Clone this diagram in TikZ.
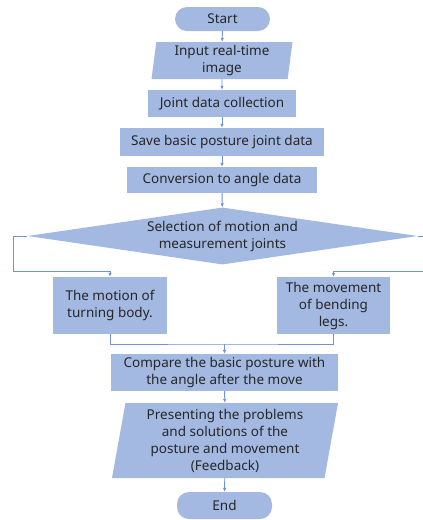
\documentclass[tikz,border=0pt]{standalone}
\usepackage{fontspec}
\setmainfont{Noto Sans}
\usetikzlibrary{shapes.geometric,arrows.meta}

\definecolor{boxfill}{RGB}{163,185,225}
\definecolor{linkcol}{RGB}{112,146,212}

\tikzset{
  txt/.style={align=center, font=\fontsize{13.5}{17}\selectfont, text=black!85},
  base/.style={txt, fill=boxfill, draw=none, inner sep=0pt},
  term/.style={base, rounded corners=12pt, minimum width=95pt, minimum height=24pt},
  proc/.style={base, rectangle, minimum height=27pt},
  io/.style={base, trapezium, trapezium stretches body=true},
  decide/.style={base, diamond, aspect=6.84, minimum width=390pt, minimum height=57pt},
  link/.style={draw=linkcol, line width=0.9pt},
  arr/.style={link, -{Latex[length=4pt,width=3.5pt]}}
}

\begin{document}
\begin{tikzpicture}[x=1pt,y=-1pt]
\clip (0,0) rectangle (423,520);
\fill[white] (0,0) rectangle (423,520);

\node[term] (start) at (222.5,19) {Start};
\node[io, trapezium left angle=81, trapezium right angle=99,
  minimum width=141pt, minimum height=37pt] (input) at (222,60.5) {Input real-time\\image};
\node[proc, minimum width=148pt] (joint) at (222,103.5) {Joint data collection};
\node[proc, minimum width=204pt, minimum height=28pt] (save) at (222,142) {Save basic posture joint data};
\node[proc, minimum width=190pt, minimum height=26pt] (conv) at (222,180) {Conversion to angle data};
\node[decide, label={[txt]center:{Selection of motion and\\measurement joints}}] (sel) at (222.5,236) {};

\node[proc, minimum width=114pt, minimum height=57pt] (turn) at (110,305.5) {The motion of\\turning body.};
\node[proc, minimum width=113pt, minimum height=57pt] (bend) at (333.5,305.5) {The movement\\of bending\\legs.};

\node[proc, minimum width=227pt, minimum height=37pt] (cmp) at (224.5,372.5) {Compare the basic posture with\\the angle after the move};
\node[io, trapezium left angle=78, trapezium right angle=102,
  minimum width=226pt, minimum height=75pt] (fb) at (225,440.5)
  {Presenting the problems\\and solutions of the\\posture and movement\\(Feedback)};
\node[term, minimum height=27pt] (end) at (224.5,505.5) {End};

\coordinate (lcor) at (13,271);
\coordinate (rcor) at (428,271);
\coordinate (mrg) at (224.5,344);

\draw[arr] (start) -- (input);
\draw[arr] (input) -- (joint);
\draw[arr] (joint) -- (save);
\draw[arr] (save) -- (conv);
\draw[arr] (conv) -- (sel);
\draw[arr] (sel.west) -| (lcor) -| (turn.north);
\draw[arr] (sel.east) -| (rcor) -| (bend.north);
\draw[link] (turn.south) |- (mrg) -| (bend.south);
\draw[arr] (mrg) -- (cmp);
\draw[arr] (cmp) -- (fb);
\draw[arr] (fb) -- (end);
\end{tikzpicture}
\end{document}
